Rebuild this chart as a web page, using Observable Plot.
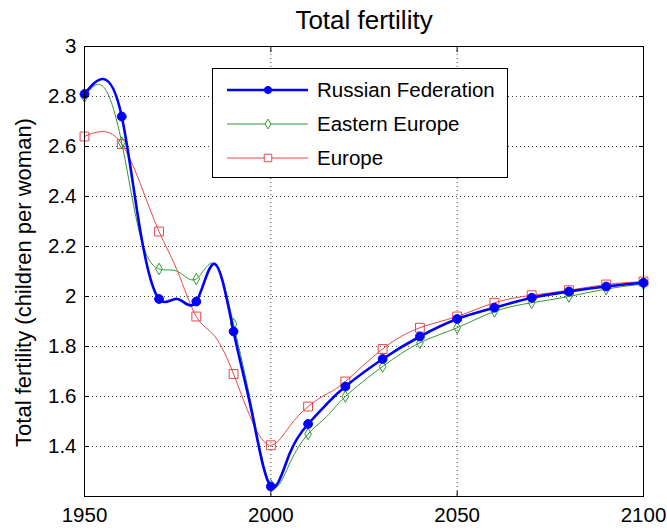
<!DOCTYPE html>
<html>
<head>
<meta charset="utf-8">
<script src="https://cdn.jsdelivr.net/npm/d3@7"></script>
<script src="https://cdn.jsdelivr.net/npm/@observablehq/plot@0.6"></script>
<style>
  html, body { margin: 0; padding: 0; background: #fff; }
  #wrap { position: relative; width: 667px; height: 531px; font-family: "Liberation Sans", Arial, sans-serif; }
  #legend { position: absolute; left: 212px; top: 68px; width: 296px; height: 110px; box-sizing: border-box; border: 1px solid #000; background: #fff; }
</style>
</head>
<body>
<div id="wrap"><div id="legend"></div></div>
<script>
// ---- data ----
const years = [1950,1955,1960,1965,1970,1975,1980,1985,1990,1995,2000,2005,2010,2015,2020,2030,2040,2050,2060,2070,2080,2090,2100];
const russianFederation = [2.81,2.87,2.72,2.26,1.99,1.99,1.98,2.13,1.86,1.53,1.24,1.37,1.49,1.57,1.64,1.75,1.84,1.91,1.955,1.995,2.02,2.04,2.055];
const easternEurope     = [2.80,2.84,2.615,2.24,2.11,2.10,2.07,2.13,1.89,1.55,1.245,1.33,1.45,1.52,1.60,1.72,1.815,1.875,1.94,1.975,2.00,2.03,2.05];
const europe            = [2.64,2.66,2.61,2.45,2.26,2.10,1.92,1.84,1.69,1.50,1.405,1.48,1.56,1.61,1.66,1.79,1.875,1.92,1.975,2.005,2.025,2.048,2.06];
const seriesNames = ["Russian Federation","Eastern Europe","Europe"];
const seriesValues = [russianFederation, easternEurope, europe];
const xTicks = [1950,2000,2050,2100];
const yTicks = [1.4,1.6,1.8,2,2.2,2.4,2.6,2.8,3];
const titleText = "Total fertility";
const yLabel = "Total fertility (children per woman)";

// ---- styles ----
const styles = [
  {color: "#0000ff", width: 2.6, symbol: "circle", fill: "#0000ff", r: 4.4},
  {color: "#339933", width: 1, symbol: "diamond", fill: "none", r: 3.5},
  {color: "#e8474b", width: 1, symbol: "square", fill: "none", r: 5}
];

const rows = [];
seriesNames.forEach((name, s) => {
  years.forEach((yr, i) => rows.push({series: name, s, year: yr, value: seriesValues[s][i]}));
});
const markerRows = rows.filter(d => d.year % 10 === 0);

const font = '"Liberation Sans", Arial, sans-serif';
const marks = [
  Plot.gridX(xTicks.filter(d => d > 1950 && d < 2100), {stroke: "#000", strokeOpacity: 0.75, strokeDasharray: "1,3"}),
  Plot.gridY(yTicks.filter(d => d < 3), {stroke: "#000", strokeOpacity: 0.75, strokeDasharray: "1,3"}),
];
// draw Europe first, Russia on top
[2, 1, 0].forEach(s => {
  const st = styles[s];
  marks.push(Plot.line(rows.filter(d => d.s === s), {x: "year", y: "value", stroke: st.color, strokeWidth: st.width, curve: "natural"}));
  marks.push(Plot.dot(markerRows.filter(d => d.s === s), {x: "year", y: "value", symbol: () => st.symbol, stroke: st.color, fill: st.fill, r: st.r, strokeWidth: 1}));
});
marks.push(
  Plot.frame({stroke: "#000", strokeWidth: 1}),
  Plot.axisX({anchor: "bottom", ticks: xTicks, tickSize: -5, tickPadding: 16, tickFormat: d => String(d), fontSize: 20.5, fill: "#000", label: null}),
  Plot.axisX({anchor: "top", ticks: xTicks, tickSize: -5, tickFormat: () => "", label: null}),
  Plot.axisY({anchor: "left", ticks: yTicks, tickSize: -5, tickPadding: 13, tickFormat: d => String(+d.toFixed(1)), fontSize: 20.5, fill: "#000", label: null}),
  Plot.axisY({anchor: "right", ticks: yTicks, tickSize: -5, tickFormat: () => "", label: null}),
  Plot.text([yLabel], {text: d => d, frameAnchor: "left", dx: -61, dy: 11, rotate: -90, textAnchor: "middle", fontSize: 22, fill: "#000", lineAnchor: "middle"}),
  Plot.text([titleText], {text: d => d, frameAnchor: "top", dy: -26, textAnchor: "middle", fontSize: 26, fill: "#000", lineAnchor: "middle"})
);

const chart = Plot.plot({
  width: 667,
  height: 531,
  marginLeft: 84,
  marginRight: 24,
  marginTop: 46,
  marginBottom: 35,
  style: {fontFamily: font, background: "#fff", color: "#000", overflow: "visible"},
  x: {domain: [1950, 2100], label: null},
  y: {domain: [1.2, 3], label: null},
  marks
});
document.getElementById("wrap").prepend(chart);

// ---- legend ----
const legendSvg = d3.create("svg").attr("width", 294).attr("height", 108).style("display", "block");
seriesNames.forEach((name, s) => {
  const st = styles[s];
  const cy = 21 + s * 34;
  const g = legendSvg.append("g");
  g.append("line").attr("x1", 14).attr("x2", 95).attr("y1", cy).attr("y2", cy).attr("stroke", st.color).attr("stroke-width", st.width);
  const sym = {circle: d3.symbolCircle, diamond: d3.symbolDiamond, square: d3.symbolSquare}[st.symbol];
  const rr = s === 0 ? 3.6 : st.r * 0.85;
  g.append("path").attr("d", d3.symbol(sym, Math.PI * rr * rr)()).attr("transform", `translate(55,${cy})`)
    .attr("stroke", st.color).attr("fill", st.fill === "none" ? "#fff" : st.fill).attr("stroke-width", 1);
  g.append("text").attr("x", 104).attr("y", cy).attr("dy", "0.35em").attr("font-size", 20.5).attr("font-family", font).attr("fill", "#000").text(name);
});
document.getElementById("legend").append(legendSvg.node());
</script>
</body>
</html>
